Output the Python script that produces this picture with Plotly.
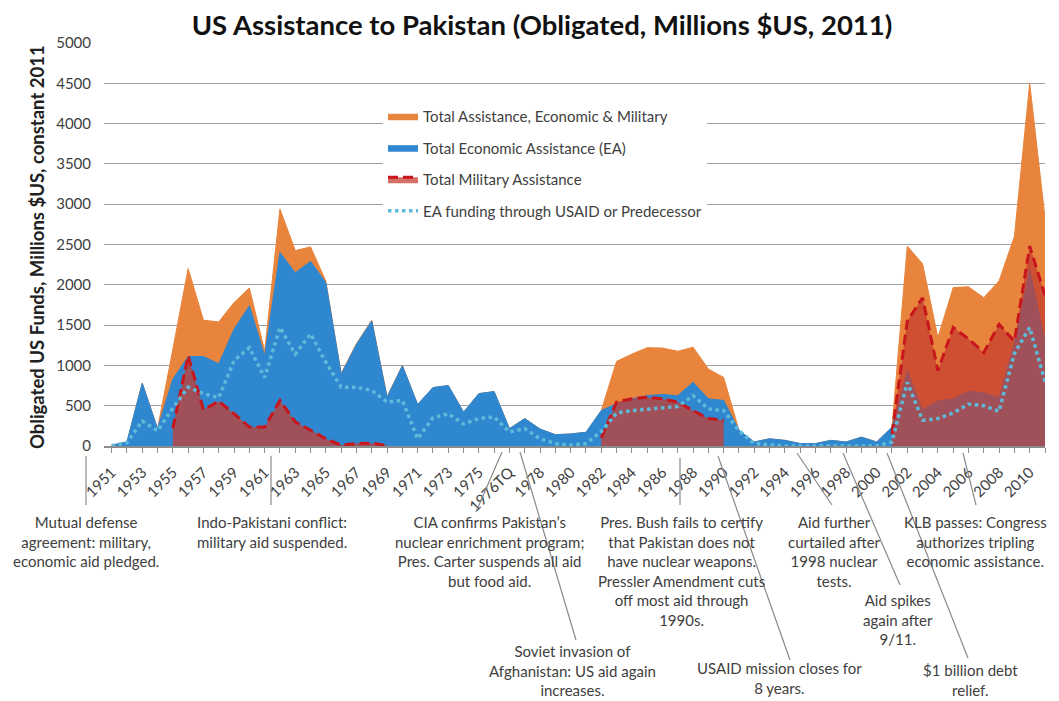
import plotly.graph_objects as go

# ---------------- data ----------------
categories = [str(y) for y in range(1951, 1977)] + ["1976TQ"] + [str(y) for y in range(1977, 2012)]

total_assistance = [10, 50, 780, 215, 1200, 2200, 1560, 1540, 1780, 1960,
                    1180, 2940, 2425, 2470, 2045, 900, 1270, 1560, 612, 1000,
                    515, 725, 750, 420, 650, 675, 215, 340, 210, 140,
                    150, 170, 440, 1050, 1140, 1220, 1215, 1175, 1225, 955,
                    850, 195, 50, 90, 70, 30, 30, 70, 50, 110,
                    50, 235, 2480, 2260, 1345, 1965, 1975, 1840, 2050, 2600, 4500, 2830]

economic_assistance = [10, 50, 780, 215, 830, 1110, 1110, 1020, 1450, 1740,
                       1120, 2400, 2150, 2290, 2025, 890, 1260, 1550, 605, 995,
                       515, 725, 750, 420, 650, 675, 215, 340, 210, 140,
                       150, 170, 440, 525, 585, 625, 640, 625, 790, 585,
                       565, 195, 50, 90, 70, 30, 30, 70, 50, 110,
                       50, 235, 935, 450, 560, 585, 680, 660, 600, 1280, 2200, 1300]

military_assistance = [None, None, None, None, 220, 1120, 450, 555, 400, 235,
                       235, 565, 300, 195, 90, 10, 30, 35, 5, None,
                       None, None, None, None, None, None, None, None, None, None,
                       None, None, 100, 545, 585, 605, 585, 545, 440, 340,
                       320, None, None, None, None, None, None, None, None, None,
                       None, 150, 1550, 1840, 935, 1470, 1330, 1160, 1510, 1300, 2480, 1870]

usaid_funding = [5, 40, 310, 190, 470, 730, 650, 600, 1060, 1220,
                 850, 1470, 1140, 1390, 1040, 730, 730, 690, 545, 565,
                 90, 350, 400, 275, 340, 360, 175, 215, 90, 30,
                 10, 30, 180, 410, 440, 460, 475, 490, 625, 460,
                 440, 190, 30, 10, 0, 0, 0, 0, 0, 0,
                 0, 50, 790, 320, 340, 410, 520, 500, 430, 1150, 1470, 800]

tick_labels = categories[::2]

events = [
    "Mutual defense<br>agreement: military,<br>economic aid pledged.",
    "Indo-Pakistani conflict:<br>military aid suspended.",
    "CIA confirms Pakistan’s<br>nuclear enrichment program;<br>Pres. Carter suspends all aid<br>but food aid.",
    "Soviet invasion of<br>Afghanistan: US aid again<br>increases.",
    "Pres. Bush fails to certify<br>that Pakistan does not<br>have nuclear weapons.<br>Pressler Amendment cuts<br>off most aid through<br>1990s.",
    "USAID mission closes for<br>8 years.",
    "Aid further<br>curtailed after<br>1998 nuclear<br>tests.",
    "Aid spikes<br>again after<br>9/11.",
    "KLB passes: Congress<br>authorizes tripling<br>economic assistance.",
    "$1 billion debt<br>relief.",
]
# layout positions (page pixels): text centre x, first-line centre y
event_pos = [(86, 522), (272, 522), (489, 522), (572, 651), (681, 522),
             (779, 668), (834, 522), (898, 600), (975, 522), (970, 670)]
# leader lines (page pixels)
leader_lines = [((86, 456), (86, 505)), ((271, 456), (271, 505)),
                ((502, 452), (476, 512)), ((520, 452), (576, 640)),
                ((680, 458), (680, 505)), ((718, 456), (790, 660)),
                ((797, 453), (832, 505)), ((843, 453), (900, 585)),
                ((887, 453), (968, 658)), ((963, 453), (976, 505))]

# ---------------- geometry ----------------
OFF = 8                      # page body margin of the html page
W, H = 1059, 701             # window size
FW, FH = W - OFF, H - OFF    # figure size
L, R, T, B = 104, 1045, 43, 446   # plot area in page pixels
pw, ph = R - L, B - T


def px(x):
    return (x - L) / pw


def py(y):
    return (B - y) / ph


FONT = "Lato, 'Open Sans', sans-serif"
TXT = "#404040"

ORANGE = "#E8843C"
BLUE = "#2F87D0"
RED_FILL = "rgba(199,62,48,0.75)"
RED_LINE = "#C8161D"
AQUA = "#5DBAD9"

fig = go.Figure()

fig.add_trace(go.Scatter(
    x=categories, y=total_assistance, mode="lines", fill="tozeroy",
    fillcolor=ORANGE, line=dict(color=ORANGE, width=1),
    name="Total Assistance, Economic & Military", legendgroup="a"))

fig.add_trace(go.Scatter(
    x=categories, y=economic_assistance, mode="lines", fill="tozeroy",
    fillcolor=BLUE, line=dict(color=BLUE, width=1),
    name="Total Economic Assistance (EA)", legendgroup="b"))

# military assistance: contiguous runs drawn as separate filled segments
runs, cur = [], []
for i, v in enumerate(military_assistance):
    if v is None:
        if cur:
            runs.append(cur)
            cur = []
    else:
        cur.append(i)
if cur:
    runs.append(cur)
for k, run in enumerate(runs):
    fig.add_trace(go.Scatter(
        x=[categories[i] for i in run], y=[military_assistance[i] for i in run],
        mode="lines", fill="tozeroy", fillcolor=RED_FILL,
        line=dict(color=RED_LINE, width=3, dash="10px,5px"),
        name="Total Military Assistance", legendgroup="c", showlegend=(k == 0)))

fig.add_trace(go.Scatter(
    x=categories, y=usaid_funding, mode="lines",
    line=dict(color=AQUA, width=3.5, dash="dot"),
    name="EA funding through USAID or Predecessor", legendgroup="d"))

ticktext = [c if c in tick_labels and i % 2 == 0 else "" for i, c in enumerate(categories)]

fig.update_xaxes(
    type="category", categoryorder="array", categoryarray=categories,
    range=[-0.5, len(categories) - 1],
    tickmode="array", tickvals=categories, ticktext=ticktext,
    tickangle=-45, ticks="outside", ticklen=5, tickcolor="#8c8c8c",
    ticklabelstandoff=5,
    showline=True, linecolor="#8c8c8c", linewidth=1.5,
    showgrid=False, zeroline=False,
    tickfont=dict(family=FONT, size=15, color=TXT))

fig.update_yaxes(
    range=[0, 5000], tickmode="linear", tick0=0, dtick=500,
    showgrid=True, gridcolor="#a0a0a0", gridwidth=1.3,
    zeroline=False, showline=False, ticks="", ticklabelstandoff=12,
    tickfont=dict(family=FONT, size=15, color=TXT))

annotations = []
for text, (cx, cy) in zip(events, event_pos):
    annotations.append(dict(
        text=text, x=px(cx), y=py(cy - 11), xref="paper", yref="paper",
        xanchor="center", yanchor="top", showarrow=False, align="center",
        font=dict(family=FONT, size=15, color=TXT)))

annotations.append(dict(
    text="<b>Obligated US Funds, Millions $US, constant 2011</b>",
    x=px(37), y=py(247), xref="paper", yref="paper", textangle=-90,
    xanchor="center", yanchor="middle", showarrow=False,
    font=dict(family=FONT, size=18.5, color="#202020")))

shapes = []
for (x0, y0), (x1, y1) in leader_lines:
    shapes.append(dict(type="line", xref="paper", yref="paper",
                       x0=px(x0), y0=py(y0), x1=px(x1), y1=py(y1),
                       line=dict(color="#8a8a8a", width=1.2)))

fig.update_layout(
    width=FW, height=FH,
    margin=dict(l=L - OFF, r=FW - (R - OFF), t=T - OFF, b=FH - (B - OFF)),
    paper_bgcolor="white", plot_bgcolor="white",
    title=dict(text="<b>US Assistance to Pakistan (Obligated, Millions $US, 2011)</b>",
               x=(542 - OFF) / FW, xanchor="center", y=1 - (25 - OFF) / FH, yanchor="middle",
               font=dict(family=FONT, size=27.5, color="#111111")),
    legend=dict(x=px(383), y=py(100), xanchor="left", yanchor="top",
                bgcolor="white", borderwidth=0, tracegroupgap=9,
                traceorder="grouped",
                font=dict(family=FONT, size=15, color=TXT)),
    annotations=annotations, shapes=shapes,
    showlegend=True,
)

fig.write_html("out.html")
